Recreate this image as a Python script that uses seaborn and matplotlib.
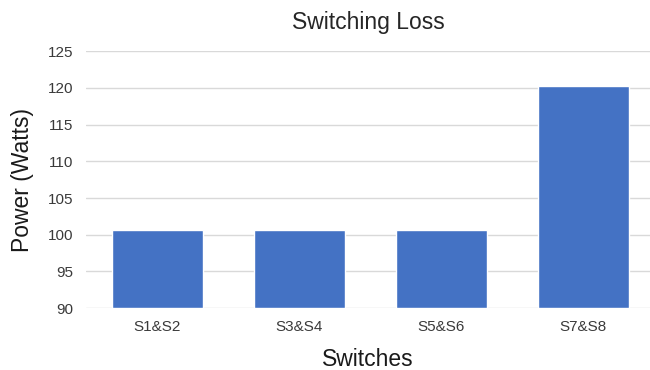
import matplotlib
matplotlib.use("Agg")
import matplotlib.pyplot as plt
import seaborn as sns
import pandas as pd

# Switching loss per switch pair
switches = ["S1&S2", "S3&S4", "S5&S6", "S7&S8"]
power_watts = [100.7, 100.7, 100.7, 120.2]
y_ticks = [90, 95, 100, 105, 110, 115, 120, 125]

sns.set_theme(style="white")
plt.rcParams["font.family"] = ["Liberation Sans", "DejaVu Sans"]

df = pd.DataFrame({"Switches": switches, "Power": power_watts})

fig = plt.figure(figsize=(6.5, 3.7), dpi=100)
ax = fig.add_axes([0.133, 0.167, 0.867, 0.695])

sns.barplot(data=df, x="Switches", y="Power", color="#4472C4",
            saturation=1, width=0.64, ax=ax, zorder=3)
for p in ax.patches:
    p.set_y(90)
    p.set_height(p.get_height() - 90)

ax.set_ylim(90, 125)
ax.set_yticks(y_ticks)
ax.set_xlim(-0.5, 3.47)
ax.grid(axis="y", color="#D9D9D9", linewidth=1, zorder=0)
for s in ax.spines.values():
    s.set_visible(False)

ax.tick_params(axis="both", length=0, labelsize=11, colors="#3a3a3a")
ax.tick_params(axis="x", pad=8.5)
ax.tick_params(axis="y", pad=9.5)
ax.set_xlabel("Switches", fontsize=16.5, color="#1a1a1a", labelpad=10)
ax.set_ylabel("Power (Watts)", fontsize=16.5, color="#1a1a1a", labelpad=10)
ax.set_title("Switching Loss", fontsize=16.5, color="#262626", pad=16)

fig.savefig("out.png", dpi=100)
